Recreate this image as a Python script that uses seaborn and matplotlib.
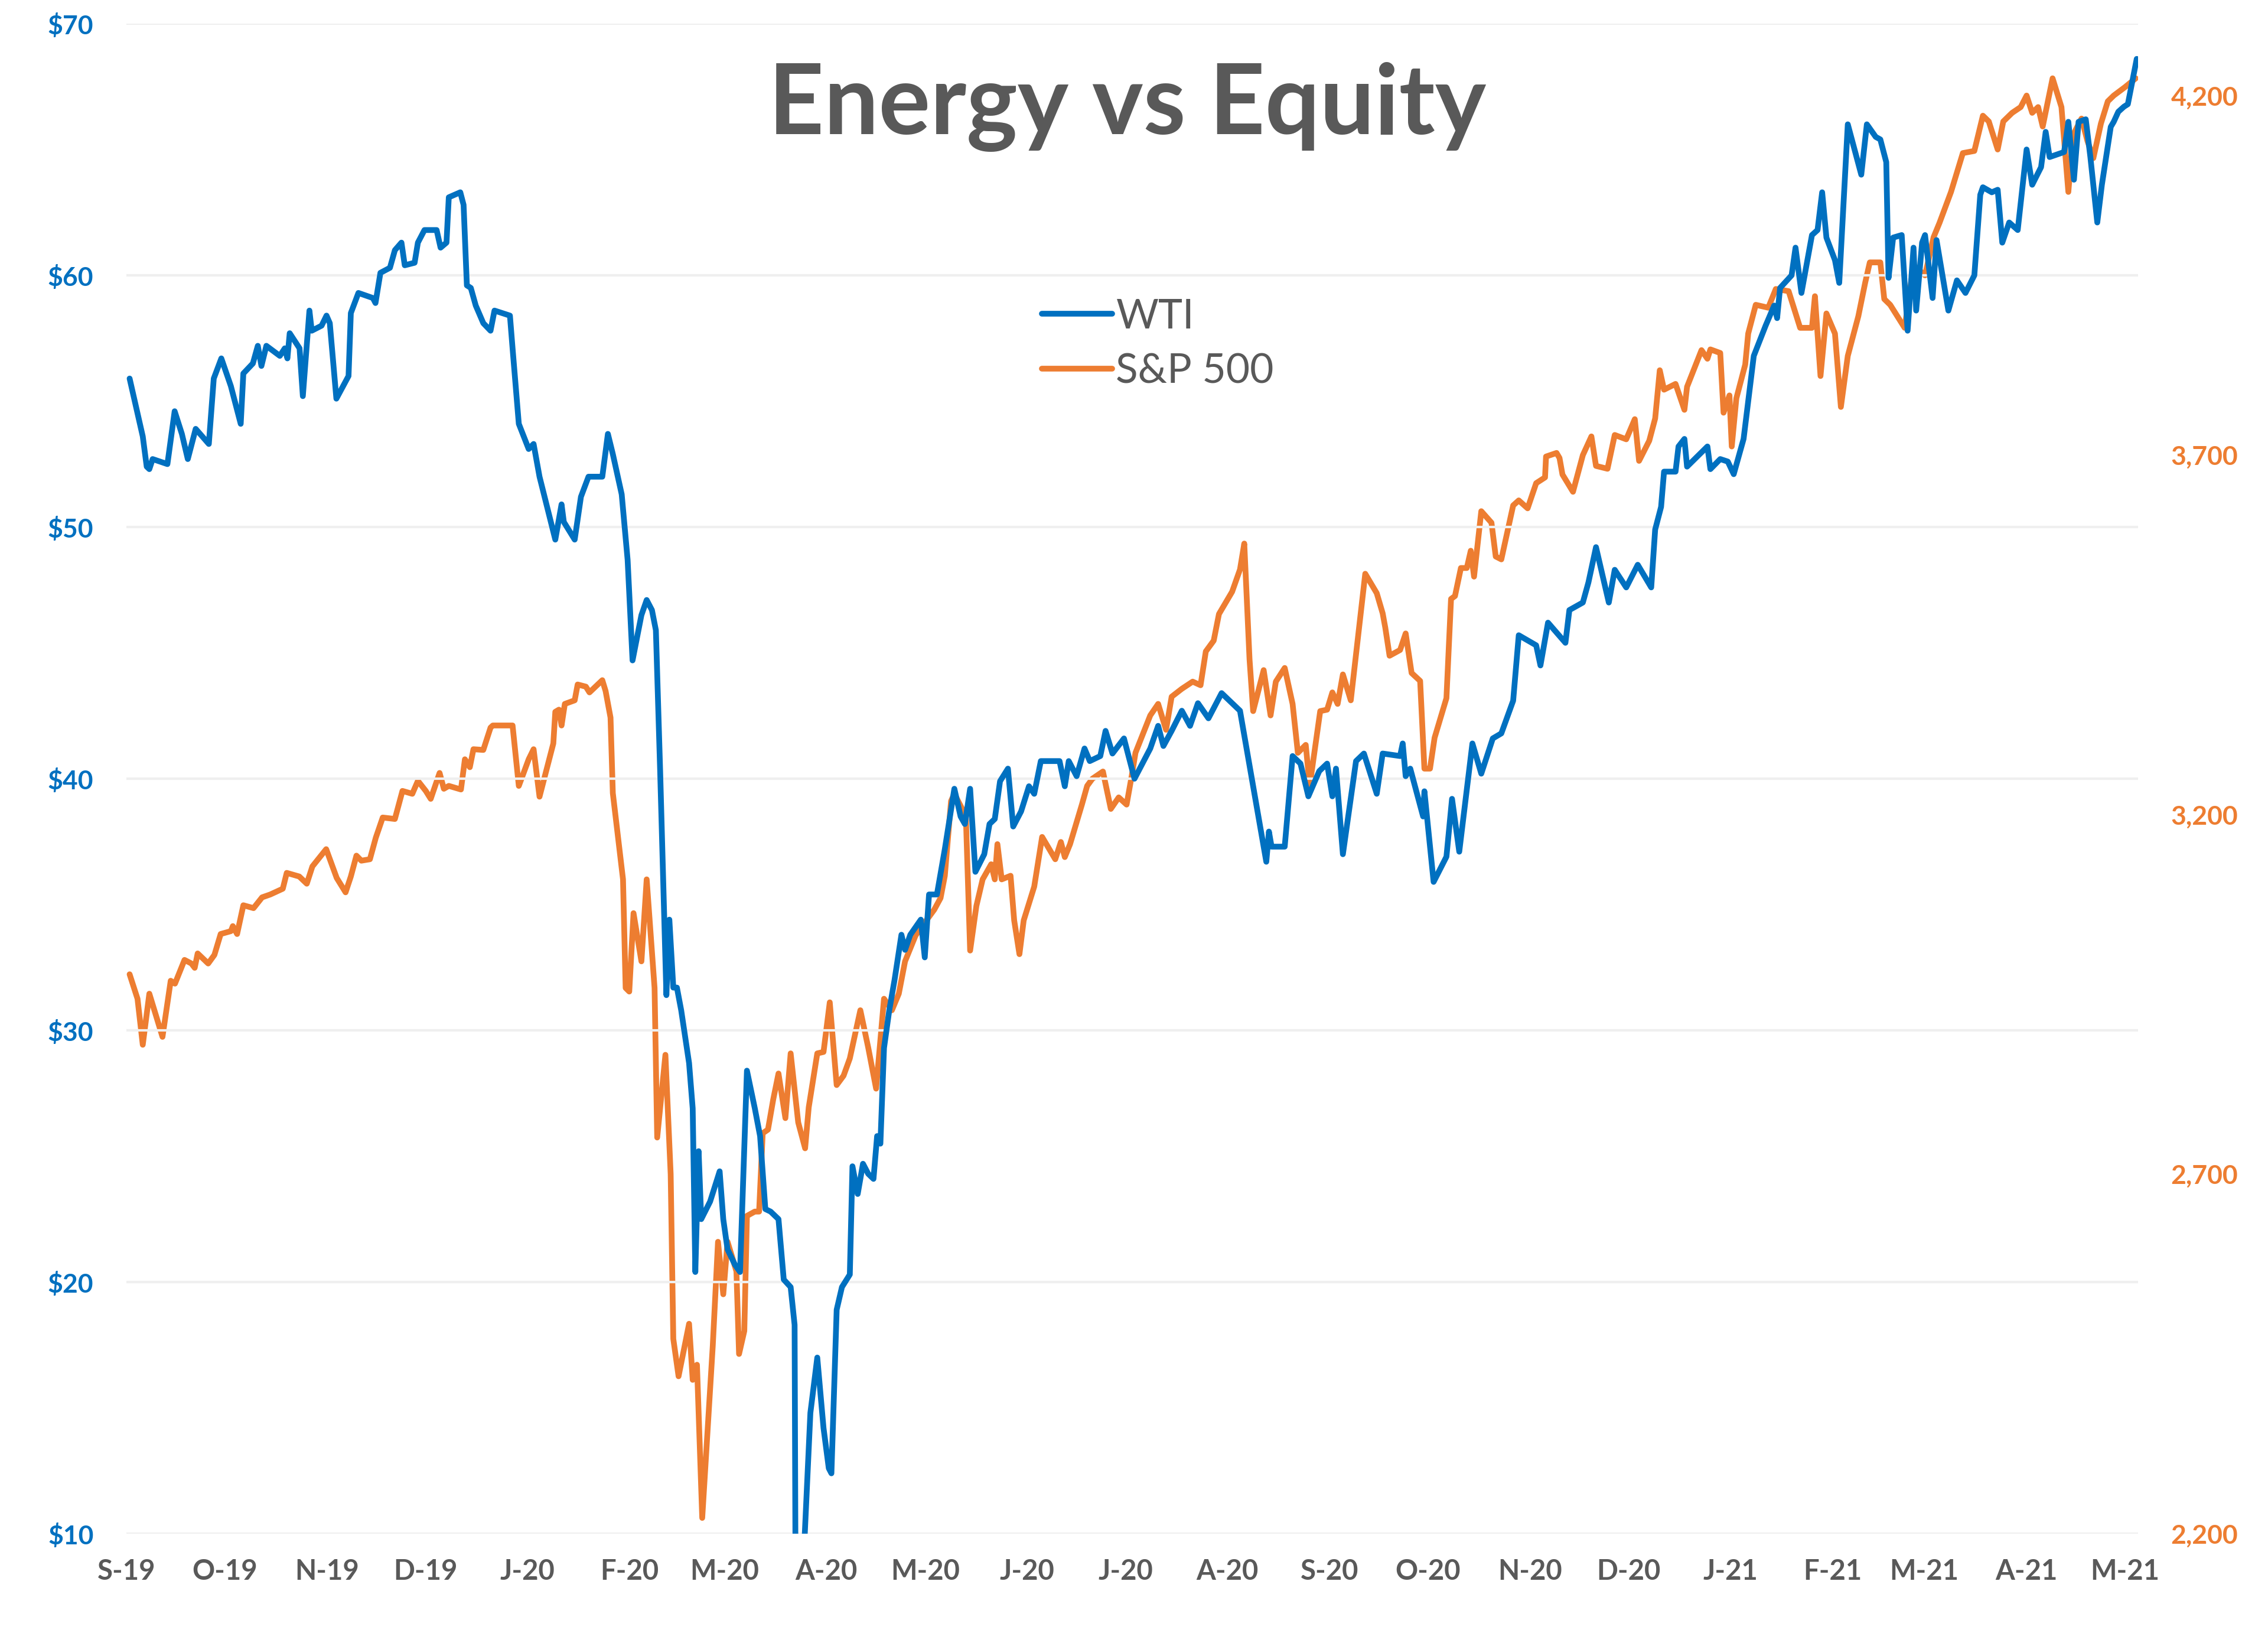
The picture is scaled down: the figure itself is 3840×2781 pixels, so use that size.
"""
Energy vs Equity: WTI crude vs S&P 500, dual axis line chart
"""

import pandas as pd
import matplotlib
matplotlib.use("Agg")
import matplotlib.pyplot as plt
import seaborn as sns

BASE_DATE = "2019-09-02"

# WTI ($/bbl): day offset from BASE_DATE, price
wti_day = [
    0, 4.0, 5.2, 6.0, 7.0, 11.5, 13.7, 15.9, 17.7, 20.1, 24.1, 25.6, 27.9, 30.8, 33.8, 34.6,
    37.5, 39.0, 40.1, 41.6, 45.7, 47.2, 48.0, 48.7, 51.7, 52.7, 54.7, 55.4, 58.4, 59.9, 60.9,
    62.9, 66.6, 67.3, 69.6, 74.0, 74.8, 76.3, 79.2, 80.7, 82.7, 83.7, 86.7, 87.7, 89.7, 93.4,
    94.6, 96.4, 97.1, 100.6, 101.6, 102.6, 103.8, 105.3, 107.6, 109.8, 111.0, 115.7, 116.5,
    118.4, 121.4, 122.9, 124.7, 129.5, 131.4, 132.1, 135.4, 137.3, 139.6, 143.8, 145.5, 147.0,
    149.7, 151.5, 153.0, 155.7, 157.3, 158.9, 160.1, 161.4, 163.3, 164.2, 165.4, 166.5, 167.8,
    170.2, 171.3, 172.1, 173.1, 173.9, 176.6, 179.5, 180.6, 181.9, 184.1, 185.7, 187.8, 190.2,
    191.8, 193.4, 195.0, 197.4, 199.0, 201.1, 202.3, 203.9, 205.4, 207.1, 209.2, 211.1, 212.7,
    213.5, 215.1, 216.7, 219.1, 219.9, 221.5, 223.1, 224.7, 226.3, 227.4, 228.4, 229.5, 231.1,
    232.7, 234.8, 235.9, 237.5, 240.7, 241.9, 243.2, 245.6, 248.0, 250.9, 252.8, 254.1, 255.7,
    257.3, 260.0, 261.6, 263.2, 264.8, 267.2, 268.8, 271.2, 273.6, 275.2, 277.2, 282.9, 284.5,
    285.7, 288.1, 290.5, 292.1, 295.3, 296.9, 299.0, 302.5, 305.7, 310.5, 312.9, 314.5, 317.0,
    320.1, 322.6, 325.0, 328.2, 332.2, 337.8, 339.4, 341.8, 345.8, 346.6, 347.4, 351.4, 353.8,
    356.2, 358.6, 361.9, 364.3, 365.9, 367.0, 369.1, 373.1, 375.5, 379.4, 381.2, 386.5, 387.3,
    388.2, 389.6, 393.5, 393.9, 396.7, 400.6, 402.3, 404.5, 408.5, 411.2, 414.7, 417.3, 420.9,
    422.6, 427.9, 429.2, 431.5, 436.8, 438.0, 442.1, 443.8, 446.1, 450.0, 451.8, 455.3, 458.8,
    462.9, 464.1, 465.9, 466.8, 470.3, 471.2, 473.0, 473.8, 480.0, 480.9, 483.9, 486.2, 488.0,
    491.0, 494.1, 497.7, 500.3, 501.2, 502.1, 505.6, 506.8, 508.6, 511.8, 513.5, 514.9, 516.2,
    518.8, 520.1, 522.7, 526.8, 528.5, 531.2, 532.6, 534.4, 535.1, 536.5, 539.1, 540.9, 542.7,
    543.5, 545.3, 546.2, 548.5, 549.7, 553.3, 555.9, 558.5, 561.2, 563.0, 563.8, 566.5, 568.3,
    569.7, 571.8, 574.4, 577.1, 578.8, 581.5, 582.9, 584.1, 588.5, 589.8, 591.5, 592.9, 595.1,
    596.5, 598.6, 600.0, 602.7, 603.6, 605.0, 606.7, 607.9, 610.6,
]
wti_px = [
    55.9, 53.6, 52.4, 52.3, 52.7, 52.5, 54.6, 53.7, 52.7, 53.9, 53.3, 55.9, 56.7, 55.6, 54.1, 56.1,
    56.5, 57.2, 56.4, 57.2, 56.8, 57.1, 56.7, 57.7, 57.1, 55.2, 58.6, 57.8, 58.0, 58.4, 58.1,
    55.1, 56.0, 58.5, 59.3, 59.1, 58.9, 60.1, 60.3, 61.0, 61.3, 60.4, 60.5, 61.3, 61.8, 61.8,
    61.1, 61.3, 63.1, 63.3, 62.8, 59.6, 59.5, 58.8, 58.1, 57.8, 58.6, 58.4, 57.1,
    54.1, 53.1, 53.3, 52.0, 49.5, 50.9, 50.2, 49.5, 51.2, 52.0, 52.0, 53.7, 52.9,
    51.3, 48.7, 44.7, 46.5, 47.1, 46.7, 45.9, 40.3, 31.4, 34.4, 31.7, 31.7, 30.8,
    28.7, 26.9, 20.4, 25.2, 22.5, 23.2, 24.4, 22.5, 21.3, 20.7, 20.4, 28.4, 26.9,
    25.8, 22.9, 22.8, 22.5, 20.1, 19.8, 18.3, -37.6, 10.0, 14.8, 17.0, 14.2, 12.6,
    12.4, 18.9, 19.8, 20.3, 24.6, 23.5, 24.7, 24.3, 24.1, 25.8, 25.5, 29.3, 30.8,
    32.0, 33.8, 33.2, 33.8, 34.4, 32.9, 35.4, 35.4, 37.2, 39.6, 38.5, 38.2, 39.6,
    36.3, 37.0, 38.2, 38.4, 39.9, 40.4, 38.1, 38.7, 39.7, 39.4, 40.7, 40.7, 39.7,
    40.7, 40.1, 41.2, 40.7, 40.9, 41.9, 41.0, 41.6, 40.0, 41.2, 42.1, 41.3, 41.9,
    42.7, 42.1, 43.0, 42.4, 43.4, 42.7, 41.5, 39.7, 36.7, 37.9, 37.3, 37.3, 40.9,
    40.6, 39.3, 40.3, 40.6, 39.3, 40.4, 37.0, 40.7, 41.0, 39.4, 41.0, 40.9, 41.4,
    40.1, 40.4, 38.5, 39.5, 35.9, 36.9, 39.2, 37.1, 41.4, 40.2, 41.6, 41.8, 43.1,
    45.7, 45.3, 44.5, 46.2, 45.4, 46.7, 47.0, 47.8, 49.2, 47.0, 48.3, 47.6, 48.5,
    47.6, 49.9, 50.8, 52.2, 52.2, 53.2, 53.5, 52.4, 53.2, 52.3, 52.7, 52.6, 52.1,
    53.5, 56.8, 58.0, 58.8, 58.3, 59.5, 60.0, 61.1, 59.3, 61.6, 61.8, 63.3, 61.5,
    60.6, 59.7, 66.0, 64.0, 66.0, 65.5, 65.4, 64.5, 59.9, 61.5, 61.6, 57.8, 61.1,
    58.6, 61.3, 61.6, 59.1, 61.4, 58.6, 59.8, 59.3, 60.0, 63.2, 63.5, 63.3, 63.4,
    61.3, 62.1, 61.8, 65.0, 63.6, 64.3, 65.7, 64.7, 64.9, 66.1, 63.8, 66.1, 66.2,
    64.7, 62.1, 63.6, 65.9, 66.1, 66.5, 66.7, 66.8, 68.6,
]

# S&P 500 index level: day offset from BASE_DATE, level
spx_day = [
    0, 2.4, 4.0, 6.0, 10.0, 12.5, 13.8, 16.7, 18.8, 19.8, 20.7, 23.9, 25.8, 27.7, 30.8, 31.4,
    32.7, 34.6, 37.7, 40.3, 42.8, 46.6, 47.8, 51.6, 53.9, 55.6, 59.8, 63.0, 65.7, 67.3, 69.0,
    70.5, 73.1, 74.9, 77.0, 80.7, 83.0, 86.0, 87.7, 90.1, 91.6, 94.3, 95.6, 97.1, 100.8, 102.0,
    103.5, 104.6, 107.6, 109.8, 110.5, 116.5, 118.4, 121.4, 122.9, 124.7, 128.9, 129.5, 130.6,
    131.4, 132.4, 135.4, 136.3, 138.8, 139.9, 143.8, 144.8, 146.3, 147.0, 150.1, 150.9, 152.0,
    153.3, 155.7, 157.3, 159.7, 160.5, 163.0, 164.6, 165.4, 167.0, 170.2, 171.3, 172.6, 174.2,
    177.4, 179.0, 180.6, 181.9, 184.6, 185.4, 187.0, 187.8, 190.2, 191.5, 192.6, 194.2, 195.8,
    197.4, 199.5, 201.1, 203.4, 205.5, 206.6, 209.2, 211.1, 213.0, 215.1, 217.2, 219.1, 222.3,
    224.7, 227.1, 229.5, 231.9, 234.0, 235.9, 239.1, 241.6, 244.8, 246.7, 248.0, 249.9, 250.9,
    254.4, 255.7, 257.6, 259.5, 262.1, 263.2, 264.0, 265.3, 268.0, 269.1, 270.7, 272.0, 275.2,
    277.6, 281.6, 283.3, 284.5, 286.1, 289.7, 291.3, 292.9, 296.1, 298.5, 300.9, 303.3, 304.9,
    306.0, 310.5, 312.9, 315.3, 317.0, 320.1, 323.4, 325.8, 327.4, 329.8, 331.4, 335.4, 337.8,
    339.1, 340.7, 341.8, 345.0, 347.1, 348.7, 351.4, 353.8, 355.4, 357.8, 359.0, 362.2, 364.3,
    365.9, 367.5, 369.1, 371.5, 375.9, 379.4, 381.2, 382.0, 383.3, 386.5, 388.2, 390.0, 392.6,
    393.9, 395.6, 397.0, 400.6, 402.0, 403.2, 405.0, 406.8, 408.0, 409.0, 411.2, 414.3, 415.6,
    417.3, 420.9, 422.6, 425.3, 427.9, 430.6, 430.9, 434.1, 435.0, 435.9, 439.1, 442.1, 444.7,
    446.1, 449.6, 451.8, 455.3, 457.9, 459.2, 462.3, 464.1, 465.5, 466.8, 470.3, 473.0, 473.8,
    478.2, 480.0, 480.9, 483.9, 484.9, 486.7, 487.4, 488.8, 491.5, 492.4, 494.7, 498.5, 500.8,
    504.7, 508.2, 511.8, 512.7, 514.4, 516.2, 518.8, 520.6, 522.7, 525.9, 528.0, 529.4, 532.6,
    533.8, 535.6, 540.0, 542.7, 546.2, 548.8, 550.6, 554.1, 557.7, 561.2, 563.8, 565.6, 568.3,
    570.0, 572.7, 575.3, 577.1, 578.8, 580.6, 582.0, 585.0, 587.7, 589.8, 591.2, 593.8, 595.6,
    597.4, 599.7, 601.8, 603.6, 607.1, 610.3,
]
spx_px = [
    2978, 2944, 2880, 2951, 2891, 2969, 2965, 2998, 2993, 2987, 3007, 2993, 3005, 3034, 3038, 3045,
    3034, 3074, 3070, 3085, 3089, 3097, 3119, 3114, 3104, 3128, 3152, 3112, 3092, 3114, 3143,
    3136, 3138, 3168, 3196, 3194, 3233, 3229, 3247, 3233, 3222, 3258, 3236, 3240, 3235, 3277,
    3266, 3291, 3290, 3321, 3324, 3324, 3240, 3277, 3291, 3225, 3299, 3343, 3346,
    3324, 3354, 3359, 3381, 3378, 3370, 3387, 3372, 3335, 3230, 3110, 2959, 2954,
    3063, 2996, 3110, 2959, 2751, 2866, 2700, 2471, 2419, 2492, 2414, 2435, 2222,
    2461, 2606, 2533, 2606, 2565, 2450, 2482, 2642, 2648, 2648, 2757, 2762, 2804,
    2840, 2778, 2868, 2772, 2736, 2793, 2868, 2870, 2939, 2824, 2837, 2861, 2928,
    2876, 2819, 2944, 2928, 2951, 2996, 3032, 3048, 3068, 3084, 3115, 3219, 3229,
    3198, 3011, 3073, 3110, 3131, 3110, 3159, 3110, 3115, 3053, 3006, 3053, 3100,
    3169, 3138, 3162, 3141, 3159, 3214, 3240, 3250, 3260, 3208, 3224, 3214, 3255,
    3286, 3338, 3354, 3318, 3364, 3375, 3385, 3380, 3427, 3442, 3479, 3510, 3541,
    3577, 3416, 3344, 3401, 3338, 3385, 3404, 3354, 3286, 3297, 3240, 3344, 3346,
    3370, 3354, 3395, 3359, 3535, 3508, 3480, 3460, 3421, 3429, 3452, 3397, 3386,
    3264, 3264, 3307, 3362, 3500, 3504, 3543, 3543, 3567, 3531, 3622, 3606, 3559,
    3555, 3630, 3637, 3626, 3661, 3669, 3698, 3703, 3696, 3673, 3649, 3700, 3726,
    3685, 3681, 3728, 3722, 3750, 3692, 3720, 3751, 3818, 3791, 3799, 3763, 3795,
    3846, 3834, 3847, 3842, 3759, 3783, 3712, 3779, 3826, 3869, 3909, 3905, 3931,
    3928, 3877, 3877, 3921, 3810, 3897, 3869, 3767, 3838, 3893, 3940, 3968, 3968,
    3917, 3909, 3877, 3964, 3950, 4003, 4023, 4066, 4120, 4123, 4172, 4164, 4125,
    4164, 4176, 4184, 4200, 4176, 4184, 4157, 4224, 4184, 4066, 4145, 4168, 4137,
    4113, 4161, 4192, 4200, 4212, 4224,
]

month_starts = pd.date_range("2019-09-01", "2021-05-01", freq="MS")
month_labels = ["S-19", "O-19", "N-19", "D-19", "J-20", "F-20", "M-20", "A-20", "M-20",
                "J-20", "J-20", "A-20", "S-20", "O-20", "N-20", "D-20", "J-21", "F-21",
                "M-21", "A-21", "M-21"]
wti_ticks = [10, 20, 30, 40, 50, 60, 70]
spx_ticks = [2200, 2700, 3200, 3700, 4200]

BLUE = "#0070C0"
ORANGE = "#ED7D31"
GREY = "#595959"


def to_frame(days, values):
    base = pd.Timestamp(BASE_DATE)
    return pd.DataFrame({
        "date": base + pd.to_timedelta(days, unit="D"),
        "value": values,
    })


def main():
    sns.set_theme(style="white")
    plt.rcParams["font.family"] = ["Lato", "DejaVu Sans"]

    wti = to_frame(wti_day, wti_px)
    spx = to_frame(spx_day, spx_px)

    fig = plt.figure(figsize=(19.2, 13.905), dpi=200)
    ax = fig.add_axes([0.0557, 0.0665, 0.8870, 0.9191])
    ax2 = ax.twinx()

    sns.lineplot(data=wti, x="date", y="value", ax=ax, color=BLUE, lw=3.5,
                 label="WTI", legend=False, zorder=3)
    sns.lineplot(data=spx, x="date", y="value", ax=ax2, color=ORANGE, lw=3.5,
                 label="S&P 500", legend=False, zorder=2)

    # Put WTI above S&P like the original
    ax.set_zorder(ax2.get_zorder() + 1)
    ax.patch.set_visible(False)

    x0 = pd.Timestamp(BASE_DATE) - pd.Timedelta(days=0.8)
    x1 = pd.Timestamp(BASE_DATE) + pd.Timedelta(days=611)
    ax.set_xlim(x0, x1)
    ax.set_ylim(10, 70)
    ax2.set_ylim(2200, 4300)

    ax.set_yticks(wti_ticks)
    ax.set_yticklabels([f"${v}" for v in wti_ticks])
    ax2.set_yticks(spx_ticks)
    ax2.set_yticklabels([f"{v:,}" for v in spx_ticks])
    ax.set_xticks(month_starts)
    ax.set_xticklabels(month_labels)

    ax.grid(axis="y", color="#EFEFEF", lw=1.5)
    ax2.grid(False)
    for a in (ax, ax2):
        for s in a.spines.values():
            s.set_visible(False)
        a.set_xlabel("")
        a.set_ylabel("")

    ax.tick_params(axis="y", length=0, pad=20, labelsize=16, labelcolor=BLUE)
    ax2.tick_params(axis="y", length=0, pad=20, labelsize=16, labelcolor=ORANGE)
    ax.tick_params(axis="x", length=0, pad=15, labelsize=17, labelcolor=GREY)
    for lab in ax.get_yticklabels() + ax2.get_yticklabels() + ax.get_xticklabels():
        lab.set_fontweight("bold")

    fig.text(0.497, 0.935, "Energy vs Equity", ha="center", va="center",
             fontsize=59, fontweight="bold", color=GREY)

    handles = ax.get_lines()[:1] + ax2.get_lines()[:1]
    fig.legend(handles, ["WTI", "S&P 500"], loc="upper left",
               bbox_to_anchor=(0.4595, 0.8185), bbox_transform=fig.transFigure,
               frameon=False, fontsize=25, labelcolor=GREY, handlelength=1.7,
               handletextpad=0.1, labelspacing=0.43, borderpad=0, borderaxespad=0)

    fig.savefig("out.png", dpi=200, facecolor="white")


if __name__ == "__main__":
    main()
